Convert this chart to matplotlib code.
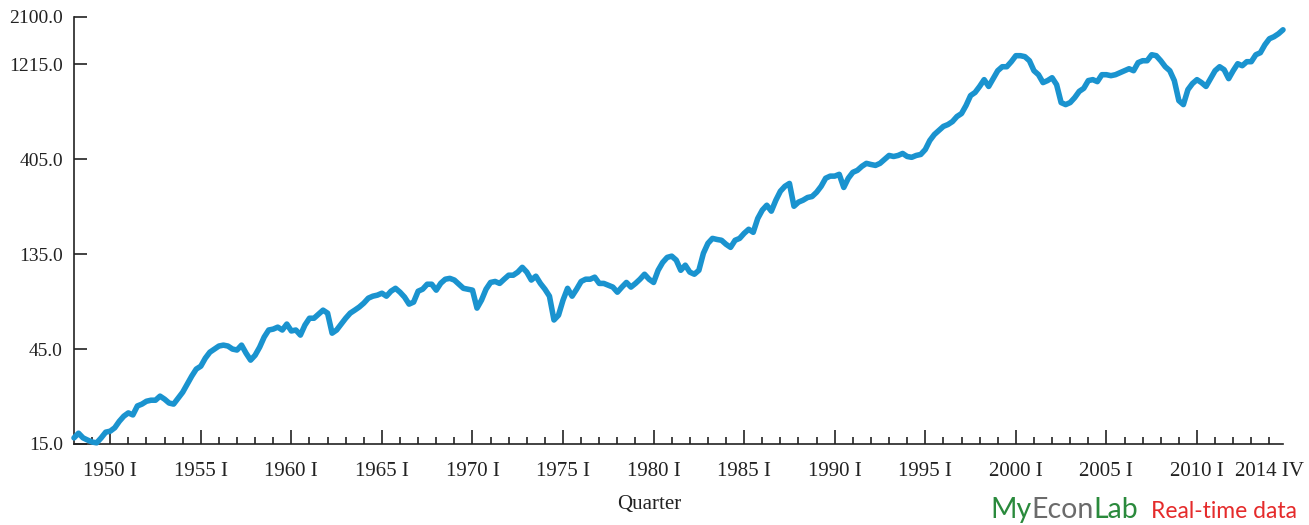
import numpy as np
import matplotlib.pyplot as plt
from matplotlib.ticker import NullLocator

# Quarterly stock price index, 1948 I - 2014 IV (four values per year)
sp500 = [
    16.1, 17.0, 16.1, 15.7,      # 1948
    15.35, 15.2, 16.1, 17.2,     # 1949
    17.4, 18.1, 19.5, 20.7,      # 1950
    21.5, 21.0, 23.3, 23.8,      # 1951
    24.6, 24.9, 24.9, 26.1,      # 1952
    25.2, 24.1, 23.8, 25.5,      # 1953
    27.3, 30.0, 32.9, 35.7,      # 1954
    36.9, 40.5, 43.4, 45.0,      # 1955
    46.6, 47.1, 46.6, 45.0,      # 1956
    44.5, 47.1, 42.9, 39.6,      # 1957
    41.9, 46.0, 51.7, 56.1,      # 1958
    56.7, 58.0, 56.1, 60.1,      # 1959
    55.5, 56.1, 52.9, 59.4,      # 1960
    64.3, 64.3, 67.4, 70.6,      # 1961
    68.2, 54.1, 56.1, 60.1,      # 1962
    64.3, 68.2, 70.6, 73.2,      # 1963
    76.6, 81.1, 83.0, 84.0,      # 1964
    85.9, 83.0, 87.9, 90.9,      # 1965
    86.9, 82.1, 75.7, 77.5,      # 1966
    87.9, 90.0, 95.3, 95.3,      # 1967
    89.0, 96.4, 101.0, 102.0,    # 1968
    100.0, 95.3, 90.9, 90.0,     # 1969
    89.0, 72.3, 79.3, 90.0,      # 1970
    97.3, 98.4, 96.2, 101.0,     # 1971
    105.8, 105.8, 109.6, 115.9,  # 1972
    109.6, 100.0, 104.6, 96.2,   # 1973
    90.0, 83.0, 63.0, 66.6,      # 1974
    79.3, 90.9, 83.0, 90.0,      # 1975
    98.4, 101.0, 101.0, 103.4,   # 1976
    96.2, 96.2, 94.2, 92.2,      # 1977
    86.9, 92.2, 97.3, 92.2,      # 1978
    96.2, 101.0, 107.0, 101.0,   # 1979
    97.3, 112.0, 122.6, 130.0,   # 1980
    131.9, 126.0, 112.0, 118.8,  # 1981
    109.6, 107.0, 112.0, 136.4,  # 1982
    153.0, 162.0, 160.0, 158.5,  # 1983
    151.3, 146.0, 158.5, 162.0,  # 1984
    171.8, 180.0, 173.8, 204.0,  # 1985
    224.6, 237.8, 222.0, 252.0,  # 1986
    279.6, 296.0, 306.0, 235.0,  # 1987
    246.5, 252.0, 260.0, 263.0,  # 1988
    276.4, 296.0, 325.0, 333.0,  # 1989
    333.0, 340.0, 292.0, 325.0,  # 1990
    348.0, 356.0, 373.0, 386.0,  # 1991
    381.0, 377.0, 386.0, 404.0,  # 1992
    423.0, 418.0, 423.0, 433.0,  # 1993
    418.0, 414.0, 423.0, 428.0,  # 1994
    453.0, 503.0, 539.0, 565.0,  # 1995
    592.0, 605.0, 626.0, 664.0,  # 1996
    687.0, 754.0, 846.0, 877.0,  # 1997
    940.0, 1017.0, 940.0, 1029.0,    # 1998
    1128.0, 1181.0, 1181.0, 1252.0,  # 1999
    1342.0, 1342.0, 1327.0, 1266.0,  # 2000
    1128.0, 1077.0, 983.0, 1006.0,   # 2001
    1040.0, 960.0, 780.0, 762.0,     # 2002
    780.0, 826.0, 888.0, 920.0,      # 2003
    1006.0, 1017.0, 994.0, 1077.0,   # 2004
    1077.0, 1065.0, 1077.0, 1102.0,  # 2005
    1128.0, 1154.0, 1128.0, 1238.0,  # 2006
    1266.0, 1266.0, 1357.0, 1342.0,  # 2007
    1266.0, 1181.0, 1128.0, 1006.0,  # 2008
    798.0, 762.0, 906.0, 972.0,      # 2009
    1017.0, 983.0, 940.0, 1029.0,    # 2010
    1128.0, 1181.0, 1141.0, 1029.0,  # 2011
    1128.0, 1223.0, 1195.0, 1252.0,  # 2012
    1252.0, 1357.0, 1389.0, 1523.0,  # 2013
    1633.0, 1671.0, 1730.0, 1811.0,  # 2014
]
first_year = 1948

y_ticks = [15.0, 45.0, 135.0, 405.0, 1215.0, 2100.0]
major_years = list(range(1950, 2011, 5))
minor_years = [y for y in range(1949, 2015) if y not in major_years]

quarters = first_year + np.arange(len(sp500)) / 4.0

W, H = 1309, 525
fig = plt.figure(figsize=(W / 100, H / 100), dpi=100)
ax = fig.add_axes([74 / W, 81 / H, 1209 / W, 427 / H])

ax.plot(quarters, sp500, color='#1a93cf', lw=4.0,
        solid_joinstyle='round', solid_capstyle='round', clip_on=False, zorder=3)

ax.set_yscale('log')
ax.set_ylim(15, 2100)
ax.set_xlim(1948.0, 2014.75)

ax.set_yticks(y_ticks)
ax.set_yticklabels(['%.1f' % v for v in y_ticks])
ax.yaxis.set_minor_locator(NullLocator())

ax.set_xticks(major_years)
ax.set_xticklabels(['%d I' % y for y in major_years])
ax.set_xticks(minor_years, labels=['2014 IV' if y == 2014 else '' for y in minor_years],
              minor=True)

for s in ['top', 'right']:
    ax.spines[s].set_visible(False)
for s in ['left', 'bottom']:
    ax.spines[s].set_linewidth(1.2)
    ax.spines[s].set_color('#222222')

serif = 'Liberation Serif'
ax.tick_params(axis='y', which='major', direction='in', length=9, width=1.2,
               color='#222222', pad=8, labelsize=14, labelcolor='#222222')
ax.tick_params(axis='x', which='major', direction='in', length=10, width=1.2,
               color='#222222', pad=13, labelsize=15, labelcolor='#222222')
ax.tick_params(axis='x', which='minor', direction='in', length=5, width=1.2,
               color='#222222', pad=13, labelsize=15, labelcolor='#222222')
for lab in ax.get_xticklabels(which='both') + ax.get_yticklabels():
    lab.set_family(serif)

fig.text(649 / W, 1 - 505 / H, 'Quarter', ha='center', va='center',
         family=serif, fontsize=15, color='#222222')

# MyEconLab badge, pieces laid end to end
fig.canvas.draw()
renderer = fig.canvas.get_renderer()
parts = [('My', '#2a8a3c', 20.5, 0), ('Econ', '#6b6b6b', 20.5, 0),
         ('Lab', '#2a8a3c', 20.5, 0), ('Real-time data', '#e52b2b', 16.5, 13)]
x = 990
for txt, col, size, gap in parts:
    x += gap
    t = fig.text(x / W, 7 / H, txt, color=col, fontsize=size, family='Lato',
                 ha='left', va='baseline')
    x = t.get_window_extent(renderer).x1

fig.savefig('out.png', dpi=100)
